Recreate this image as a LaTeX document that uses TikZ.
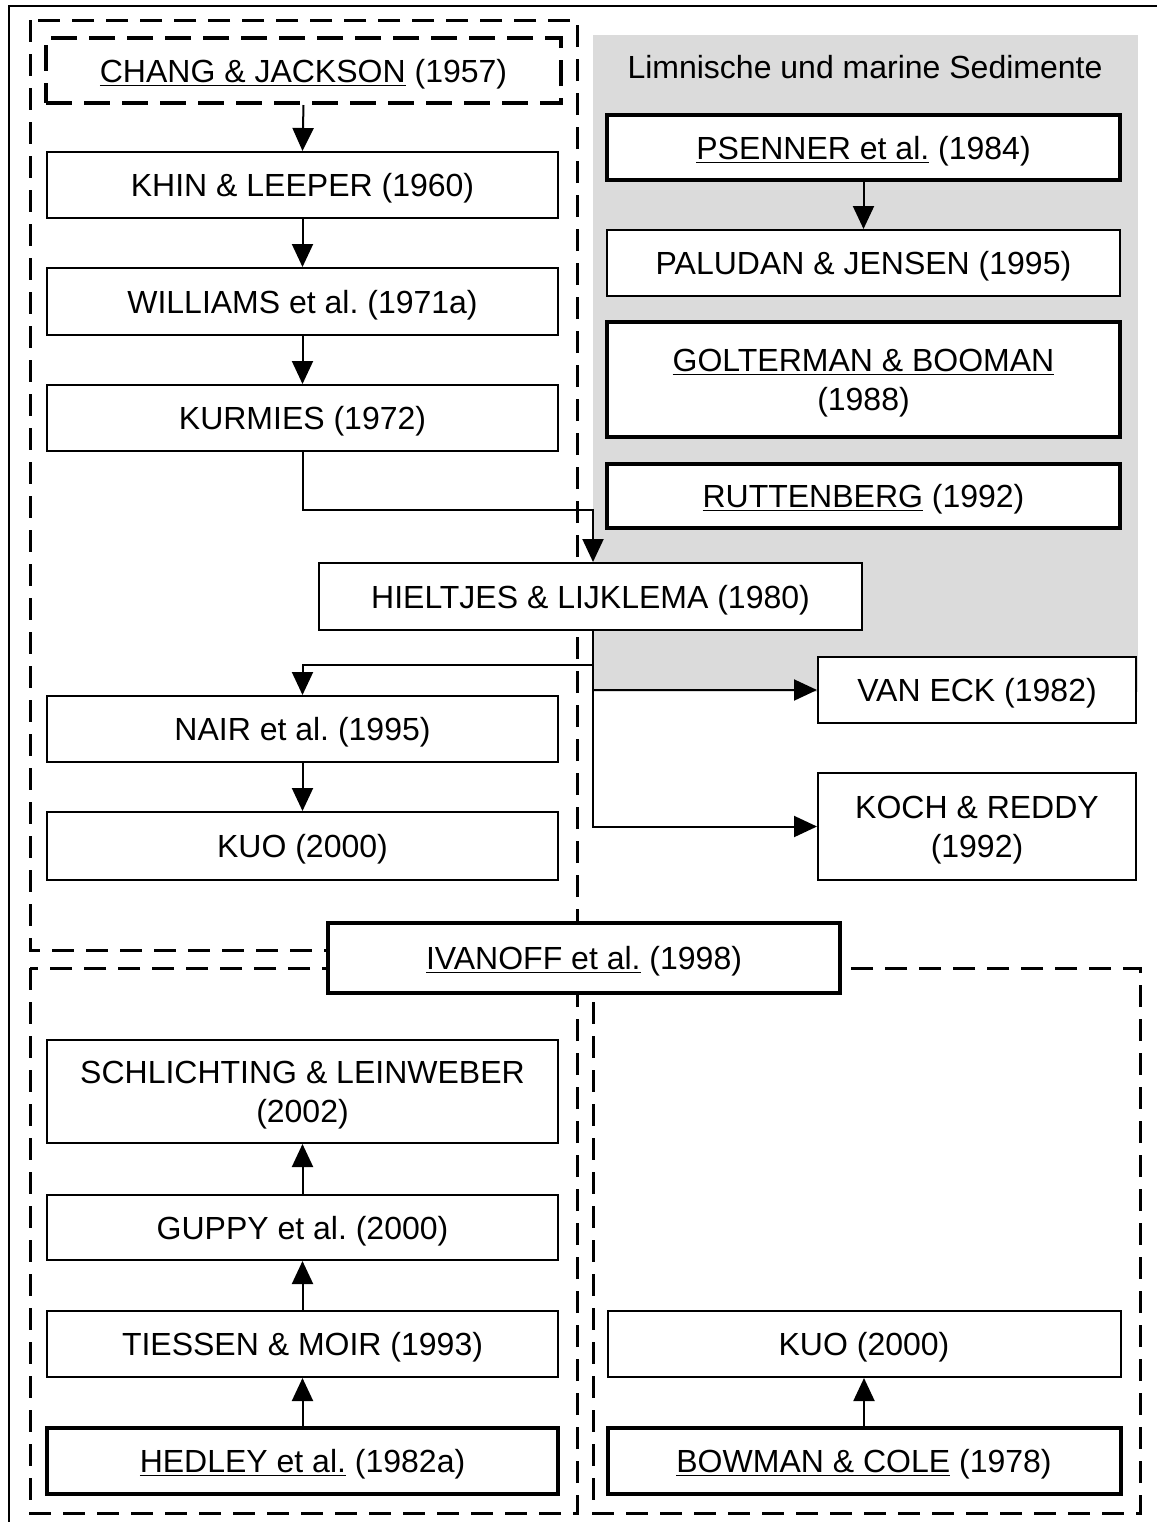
\documentclass[tikz,border=0pt]{standalone}
\usepackage{fontspec}
\setmainfont{Liberation Sans}
\usetikzlibrary{arrows.meta}
\frenchspacing
\begin{document}
\begin{tikzpicture}[x=0.5pt,y=-0.5pt,
  base/.style={draw, fill=white, inner sep=0pt, align=center, text depth=0pt, font=\fontsize{16}{19.5}\selectfont},
  thinbox/.style={base, line width=1pt},
  thickbox/.style={base, line width=2pt},
  dashbox/.style={base, line width=2pt, dash pattern=on 13pt off 6pt},
  grp/.style={line width=1.5pt, dash pattern=on 11pt off 6pt},
  conn/.style={line width=1pt, -{Triangle[width=10.5pt,length=11.5pt]}},
  wL/.style={minimum width=255.5pt},
  wR/.style={minimum width=256.5pt}]
\useasboundingbox (0,0) rectangle (1157,1522);
% outer frame
\draw[line width=0.75pt] (9,1522) -- (9,6) -- (1157,6);
% groups
\draw[grp] (30,20) rectangle (577,950);
\draw[grp] (30,968) rectangle (577,1513);
\draw[grp] (593,968) rectangle (1140,1513);
% gray area
\fill[gray!28] (593,35) rectangle (1138,692);
\node[font=\fontsize{16}{19.5}\selectfont] (lim) at (865,67) {Limnische und marine Sedimente};
% left column
\node[dashbox, minimum width=257.5pt, minimum height=32.5pt] (chang) at (303.5,70.5) {\underline{CHANG \& JACKSON} (1957)};
\node[thinbox, wL, minimum height=33pt] (khin) at (302.5,185) {KHIN \& LEEPER (1960)};
\node[thinbox, wL, minimum height=33.5pt] (williams) at (302.5,301.5) {WILLIAMS et al. (1971a)};
\node[thinbox, wL, minimum height=33pt] (kurmies) at (302.5,418) {KURMIES (1972)};
\node[thinbox, minimum width=271.5pt, minimum height=33.5pt] (hieltjes) at (590.5,596.5) {HIELTJES \& LIJKLEMA (1980)};
\node[thinbox, wL, minimum height=33pt] (nair) at (302.5,729) {NAIR et al. (1995)};
\node[thinbox, wL, minimum height=34pt] (kuoL) at (302.5,846) {KUO (2000)};
% right column
\node[thickbox, wR, minimum height=32.5pt] (psenner) at (863.5,147.5) {\underline{PSENNER et al.} (1984)};
\node[thinbox, wR, minimum height=33pt] (paludan) at (863.5,263) {PALUDAN \& JENSEN (1995)};
\node[thickbox, wR, minimum height=57.5pt] (golterman) at (863.5,379.5) {\underline{GOLTERMAN \& BOOMAN}\\(1988)};
\node[thickbox, wR, minimum height=32pt] (ruttenberg) at (863.5,496) {\underline{RUTTENBERG} (1992)};
\node[thinbox, minimum width=159pt, minimum height=33pt] (vaneck) at (977,690) {VAN ECK (1982)};
\node[thinbox, minimum width=159pt, minimum height=53.5pt] (koch) at (977,826.5) {KOCH \& REDDY\\(1992)};
% middle
\node[thickbox, minimum width=256pt, minimum height=35pt] (ivanoff) at (584,958) {\underline{IVANOFF et al.} (1998)};
% bottom left
\node[thinbox, wL, minimum height=51.5pt] (schlicht) at (302.5,1091.5) {SCHLICHTING \& LEINWEBER\\(2002)};
\node[thinbox, wL, minimum height=32.5pt] (guppy) at (302.5,1227.5) {GUPPY et al. (2000)};
\node[thinbox, wL, minimum height=33pt] (tiessen) at (302.5,1344) {TIESSEN \& MOIR (1993)};
\node[thickbox, wL, minimum height=33pt] (hedley) at (302.5,1461) {\underline{HEDLEY et al.} (1982a)};
% bottom right
\node[thinbox, wR, minimum height=33pt] (kuoR) at (864,1344) {KUO (2000)};
\node[thickbox, wR, minimum height=33pt] (bowman) at (864,1461) {\underline{BOWMAN \& COLE} (1978)};
% connectors
\coordinate (b1) at (593,510);
\coordinate (b3) at (593,665);
\draw[conn] (chang.south) -- (khin.north);
\draw[conn] (khin.south) -- (williams.north);
\draw[conn] (williams.south) -- (kurmies.north);
\draw[conn] (kurmies.south) |- (b1) -- (b1 |- hieltjes.north);
\draw[conn] (b1 |- hieltjes.south) |- (koch.west);
\draw[conn] (b1 |- vaneck.west) -- (vaneck.west);
\draw[conn] (b3) -| (nair.north);
\draw[conn] (nair.south) -- (kuoL.north);
\draw[conn] (psenner.south) -- (paludan.north);
\draw[conn] (hedley.north) -- (tiessen.south);
\draw[conn] (tiessen.north) -- (guppy.south);
\draw[conn] (guppy.north) -- (schlicht.south);
\draw[conn] (bowman.north) -- (kuoR.south);
\end{tikzpicture}
\end{document}
